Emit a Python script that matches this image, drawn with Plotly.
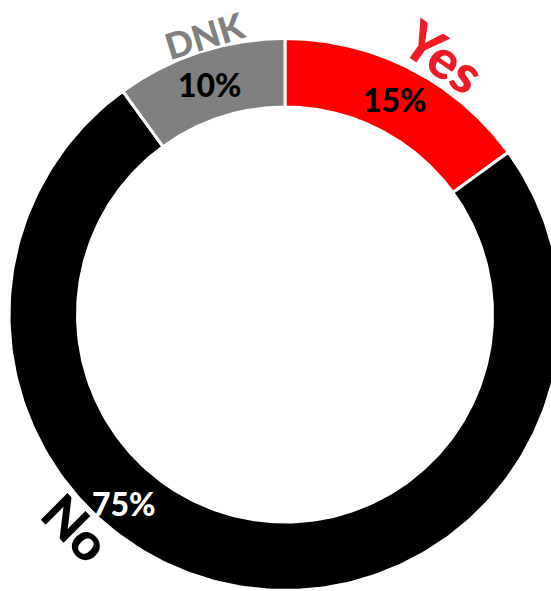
import numpy as np
import plotly.graph_objects as go

# Survey answer shares (percent)
categories = ["Yes", "No", "DNK"]
shares = [15, 75, 10]
slice_colors = ["#FF0000", "#000000", "#808080"]
label_colors = ["#ED1C24", "#000000", "#808080"]
pct_colors = ["#000000", "#FFFFFF", "#000000"]

W, H = 551, 591
CX, CY = 285.0, 314.5          # ring centre in page pixels
R_OUT, R_IN = 276.0, 207.5     # outer / inner radius (white edge included)
FONT = "Lato, 'Open Sans', sans-serif"

# Category name placement: (angle clockwise from 12 o'clock, radius, rotation, size)
name_pos = {
    "Yes": (31.6, 303.0, 35, 54),
    "No": (224.5, 298.0, 45, 52),
    "DNK": (-16.0, 291.0, -17, 36),
}
# Percent label placement (None -> middle of the slice on the ring)
pct_pos = {"Yes": None, "No": (220.5, 248.0), "DNK": None}
RING_MID = (R_OUT + R_IN) / 2


def polar_xy(angle_deg, radius):
    a = np.radians(angle_deg)
    return CX + radius * np.sin(a), CY - radius * np.cos(a)


fig = go.Figure()

total = sum(shares)
start = 0.0
annotations = []
for cat, val, col, lcol, pcol in zip(categories, shares, slice_colors,
                                     label_colors, pct_colors):
    sweep = 360.0 * val / total
    t = np.linspace(start, start + sweep, 240)
    xo, yo = polar_xy(t, R_OUT)
    xi, yi = polar_xy(t[::-1], R_IN)
    xs = np.concatenate([xo, xi, xo[:1]])
    ys = np.concatenate([yo, yi, yo[:1]])
    fig.add_trace(go.Scatter(
        x=xs, y=ys, mode="lines", fill="toself",
        fillcolor=col, line=dict(color="white", width=3),
        hoverinfo="skip", showlegend=False, name=cat,
    ))

    # percent label
    if pct_pos[cat] is None:
        px, py = polar_xy(start + sweep / 2, RING_MID)
    else:
        px, py = polar_xy(*pct_pos[cat])
    annotations.append(dict(
        x=px, y=py, xref="x", yref="y", text=f"{val}%",
        showarrow=False, xanchor="center", yanchor="middle",
        font=dict(family=FONT, size=32, color=pcol, weight=900),
    ))

    # category name
    ang, rad, rot, size = name_pos[cat]
    nx, ny = polar_xy(ang, rad)
    annotations.append(dict(
        x=nx, y=ny, xref="x", yref="y", text=cat,
        showarrow=False, xanchor="center", yanchor="middle",
        textangle=rot,
        font=dict(family=FONT, size=size, color=lcol, weight=900),
    ))
    start += sweep

fig.update_layout(
    width=W, height=H,
    margin=dict(l=0, r=0, t=0, b=0),
    paper_bgcolor="white", plot_bgcolor="white",
    showlegend=False, hovermode=False,
    xaxis=dict(range=[0, W], visible=False, fixedrange=True),
    yaxis=dict(range=[H, 0], visible=False, fixedrange=True),
    annotations=annotations,
)

fig.write_html("out.html")
